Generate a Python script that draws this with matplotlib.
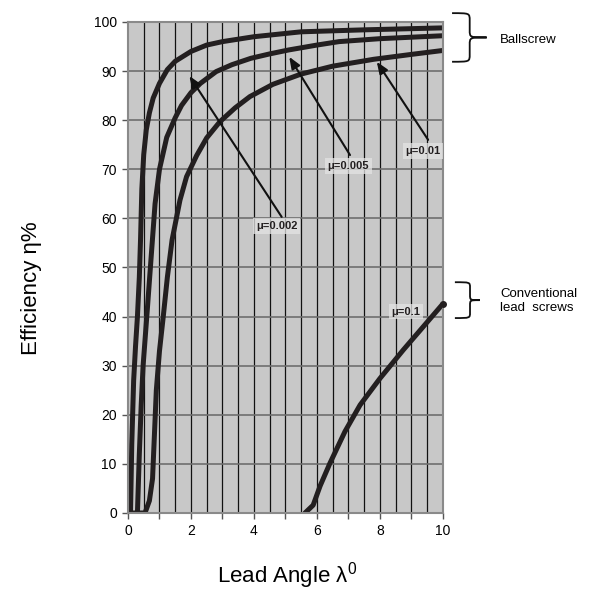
import matplotlib
matplotlib.use("Agg")
import matplotlib.pyplot as plt
from matplotlib.path import Path
from matplotlib.patches import PathPatch

plt.rcParams['font.family'] = ['Liberation Sans', 'DejaVu Sans']
plt.rcParams['mathtext.default'] = 'regular'

# values (lead angle in degrees, efficiency in %)
lam_002 = [0.08, 0.12, 0.18, 0.24, 0.30, 0.36, 0.40, 0.44, 0.50, 0.58, 0.68, 0.80, 1.0, 1.25, 1.5, 1.75, 2.0, 2.5, 3.0, 4.0, 5.5, 7.5, 10.0]
eff_002 = [0, 14, 27, 34, 40, 48, 56, 66, 73, 78, 81.5, 84.5, 87.5, 90.3, 92.0, 93.0, 94.0, 95.3, 96.0, 97.0, 98.0, 98.4, 98.8]

lam_005 = [0.30, 0.36, 0.42, 0.48, 0.55, 0.62, 0.70, 0.78, 0.86, 1.0, 1.23, 1.5, 1.7, 2.0, 2.3, 2.8, 3.3, 3.9, 4.5, 5.1, 6.0, 6.7, 8.0, 10.0]
eff_005 = [0, 12, 22, 30, 36, 42, 49, 56, 63, 70, 76.5, 80.5, 83, 85.6, 87.5, 89.9, 91.3, 92.6, 93.5, 94.3, 95.3, 96.0, 96.6, 97.2]

lam_01 = [0.0, 0.54, 0.68, 0.78, 0.84, 0.90, 1.0, 1.12, 1.25, 1.4, 1.65, 1.86, 2.18, 2.5, 2.92, 3.4, 3.87, 4.6, 5.5, 6.5, 7.8, 9.0, 10.0]
eff_01 = [0, 0, 2.5, 7, 16, 25, 33, 40, 48, 55.6, 63.7, 68.5, 72.8, 76.4, 79.7, 82.5, 84.8, 87.3, 89.4, 91.0, 92.4, 93.4, 94.2]

lam_1 = [5.62, 5.88, 6.1, 6.41, 6.89, 7.37, 8.0, 8.74, 9.37, 10.0]
eff_1 = [0, 1.6, 5.5, 10.1, 16.6, 22.0, 27.4, 33.2, 37.9, 42.6]

fig = plt.figure(figsize=(6.08, 5.99), dpi=100)
ax = fig.add_axes([0.2105, 0.1436, 0.518, 0.8197])
ax.set_facecolor('#c8c8c8')

# grid
for v in [i * 0.5 for i in range(1, 20)]:
    ax.axvline(v, color='#111111', lw=0.9, zorder=1)
for h in range(10, 100, 10):
    ax.axhline(h, color='#6e6e6e', lw=1.2, zorder=1)

line_col = '#231f20'
for xs, ys in [(lam_002, eff_002), (lam_005, eff_005), (lam_01, eff_01), (lam_1, eff_1)]:
    ax.plot(xs, ys, color=line_col, lw=3.6, solid_capstyle='round', solid_joinstyle='round', zorder=3)
ax.plot([lam_1[-1]], [eff_1[-1]], 'o', color=line_col, ms=4, zorder=6, clip_on=False)

ax.set_xlim(0, 10)
ax.set_ylim(0, 100)
ax.set_xticks(range(11))
ax.set_xticklabels(['0', '', '2', '', '4', '', '6', '', '8', '', '10'])
ax.set_yticks(range(0, 101, 10))
ax.tick_params(axis='both', labelsize=10, length=4, width=1, color='#555555', pad=4)
for s in ax.spines.values():
    s.set_color('#8a8a8a')
    s.set_linewidth(1.5)
    s.set_zorder(5)

box = dict(boxstyle='square,pad=0.25', facecolor='#e4e4e4', edgecolor='none', alpha=0.75)
arrow = dict(arrowstyle='-|>,head_length=0.5,head_width=0.2', color='#111111', lw=1.5,
             mutation_scale=14, shrinkA=0, shrinkB=0)

ax.annotate('', xy=(1.95, 89.0), xytext=(4.88, 60.3), arrowprops=arrow, zorder=4)
ax.annotate('', xy=(5.12, 92.9), xytext=(7.05, 72.9), arrowprops=arrow, zorder=4)
ax.annotate('', xy=(7.9, 91.9), xytext=(9.53, 76.0), arrowprops=arrow, zorder=4)

lab_kw = dict(fontsize=8, fontweight='bold', color='#231f20', ha='center', va='center', bbox=box, zorder=7)
ax.text(4.73, 58.5, 'μ=0.002', **lab_kw)
ax.text(7.0, 70.7, 'μ=0.005', **lab_kw)
ax.text(9.37, 73.7, 'μ=0.01', **lab_kw)
ax.text(8.82, 41.0, 'μ=0.1', **lab_kw)


def brace(x0, x1, xt, ytop, ybot):
    ym = (ytop + ybot) / 2.0
    d = (ytop - ybot) * 0.15
    verts = [(x0, ytop), (x1, ytop), (x1, ytop), (x1, ytop - d),
             (x1, ym + d),
             (x1, ym), (x1, ym), (xt, ym),
             (x1, ym), (x1, ym), (x1, ym - d),
             (x1, ybot + d),
             (x1, ybot), (x1, ybot), (x0, ybot)]
    codes = [Path.MOVETO, Path.CURVE4, Path.CURVE4, Path.CURVE4,
             Path.LINETO,
             Path.CURVE4, Path.CURVE4, Path.CURVE4,
             Path.CURVE4, Path.CURVE4, Path.CURVE4,
             Path.LINETO,
             Path.CURVE4, Path.CURVE4, Path.CURVE4]
    ax.add_patch(PathPatch(Path(verts, codes), facecolor='none', edgecolor='#111111',
                           lw=1.3, clip_on=False))


brace(10.29, 10.85, 11.39, 101.8, 91.9)
brace(10.38, 10.86, 11.17, 47.0, 39.7)

fig.text(500 / 608, 1 - 40 / 599, 'Ballscrew', fontsize=9.5, ha='left', va='center')
fig.text(500 / 608, 1 - 301 / 599, 'Conventional\nlead  screws', fontsize=9.5, ha='left', va='center',
         linespacing=1.25)

fig.text(31 / 608, 1 - 288 / 599, 'Efficiency η%', fontsize=16, rotation=90, ha='center', va='center')
fig.text(287 / 608, 1 - 576 / 599, 'Lead Angle λ$^{0}$', fontsize=16, ha='center', va='center')

fig.savefig('out.png', dpi=100, facecolor='white')
